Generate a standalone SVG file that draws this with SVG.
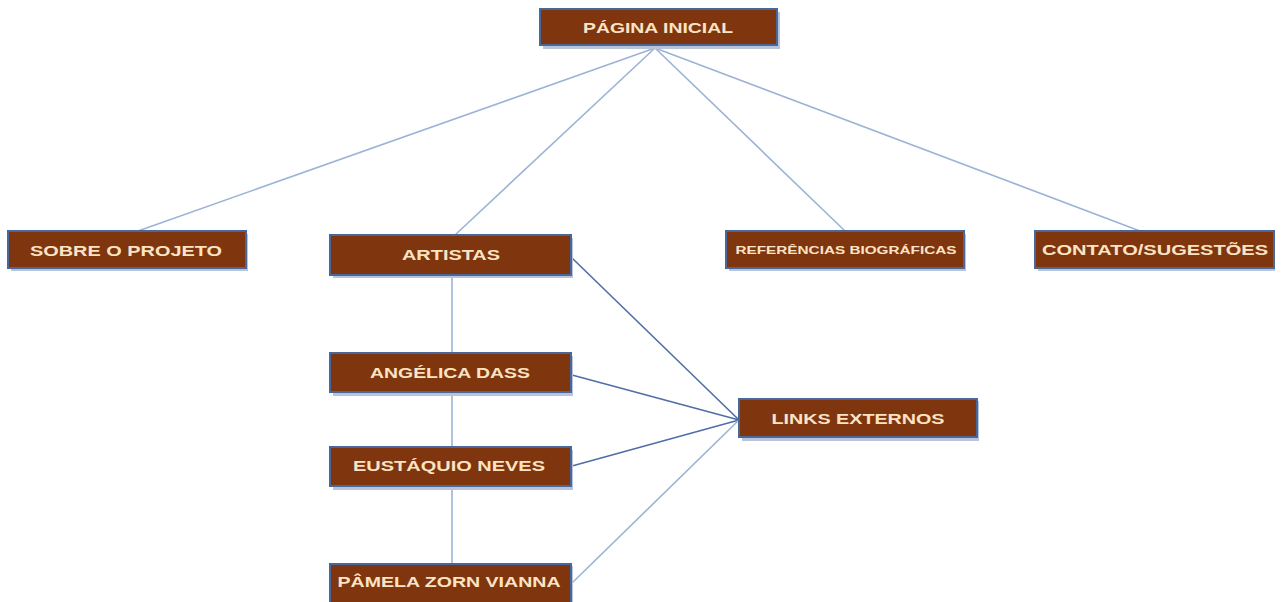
<svg xmlns="http://www.w3.org/2000/svg" width="1284" height="602" viewBox="0 0 1284 602">
<style>
.box{fill:#7F360E;stroke:#48689C;stroke-width:2}
.sh{fill:#B9C4D8}
.t{font-family:"Liberation Sans",Arial,sans-serif;font-weight:bold;fill:#FCE3C4;text-anchor:middle;dominant-baseline:central;font-size:14px}
.l1{stroke:#9CB3D6;stroke-width:1.6;fill:none}
.l2{stroke:#4F6EA6;stroke-width:1.6;fill:none}
</style>
<rect width="1284" height="602" fill="#FFFFFF"/>
<g id="connectors">
<line class="l1" x1="655" y1="48" x2="138" y2="231"/>
<line class="l1" x1="655" y1="48" x2="455" y2="235"/>
<line class="l1" x1="655" y1="48" x2="845" y2="231"/>
<line class="l1" x1="655" y1="48" x2="1140" y2="231"/>
<line class="l1" x1="452" y1="276" x2="452" y2="563"/>
<line class="l2" x1="572" y1="258" x2="739" y2="420"/>
<line class="l2" x1="572" y1="375" x2="739" y2="420"/>
<line class="l2" x1="572" y1="466" x2="739" y2="420"/>
<line class="l1" x1="572" y1="583" x2="739" y2="420"/>
</g>
<g id="pagina-inicial"><rect class="sh" x="543" y="12" width="237" height="37"/><rect class="box" x="540" y="9" width="237" height="36"/><text class="t" x="658" y="28" textLength="150" lengthAdjust="spacingAndGlyphs">PÁGINA INICIAL</text></g>
<g id="sobre"><rect class="sh" x="11" y="234" width="237" height="37"/><rect class="box" x="8" y="231" width="238" height="37"/><text class="t" x="126" y="251" textLength="192" lengthAdjust="spacingAndGlyphs">SOBRE O PROJETO</text></g>
<g id="artistas"><rect class="sh" x="333" y="238" width="240" height="40"/><rect class="box" x="330" y="235" width="241" height="40"/><text class="t" x="451" y="255" textLength="98" lengthAdjust="spacingAndGlyphs">ARTISTAS</text></g>
<g id="referencias"><rect class="sh" x="729" y="234" width="237" height="37"/><rect class="box" x="726" y="231" width="238" height="37"/><text class="t" x="846" y="250" style="font-size:11px" textLength="221" lengthAdjust="spacingAndGlyphs">REFERÊNCIAS BIOGRÁFICAS</text></g>
<g id="contato"><rect class="sh" x="1038" y="234" width="237" height="37"/><rect class="box" x="1035" y="231" width="239" height="37"/><text class="t" x="1155" y="250" textLength="226" lengthAdjust="spacingAndGlyphs">CONTATO/SUGESTÕES</text></g>
<g id="angelica"><rect class="sh" x="333" y="356" width="240" height="40"/><rect class="box" x="330" y="353" width="241" height="39"/><text class="t" x="450" y="373" textLength="160" lengthAdjust="spacingAndGlyphs">ANGÉLICA DASS</text></g>
<g id="eustaquio"><rect class="sh" x="333" y="450" width="240" height="40"/><rect class="box" x="330" y="447" width="241" height="39"/><text class="t" x="449" y="466" textLength="192" lengthAdjust="spacingAndGlyphs">EUSTÁQUIO NEVES</text></g>
<g id="pamela"><rect class="sh" x="333" y="566" width="240" height="40"/><rect class="box" x="330" y="564" width="241" height="39"/><text class="t" x="449" y="582" textLength="223" lengthAdjust="spacingAndGlyphs">PÂMELA ZORN VIANNA</text></g>
<g id="links"><rect class="sh" x="742" y="401" width="237" height="40"/><rect class="box" x="739" y="399" width="238" height="38"/><text class="t" x="858" y="419" textLength="173" lengthAdjust="spacingAndGlyphs">LINKS EXTERNOS</text></g>
</svg>
